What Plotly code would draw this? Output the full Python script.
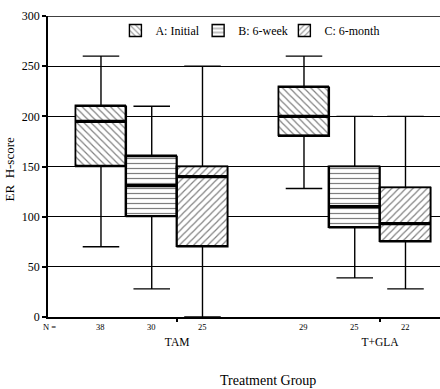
import plotly.graph_objects as go

groups = ["TAM", "T+GLA"]
group_centers = [2.5, 6.5]
series = ["A: Initial", "B: 6-week", "C: 6-month"]
offsets = [-1.5, -0.5, 0.5]
patterns = ["\\", "-", "/"]
legend_ids = ["legend", "legend2", "legend3"]
legend_x = [0.172, 0.383, 0.603]

# per series, per group [TAM, T+GLA]
lower = {"A: Initial": [70, 128], "B: 6-week": [28, 39], "C: 6-month": [0, 28]}
q1 = {"A: Initial": [150, 180], "B: 6-week": [100, 89], "C: 6-month": [70, 75]}
median = {"A: Initial": [195, 200], "B: 6-week": [131, 110], "C: 6-month": [140, 93]}
q3 = {"A: Initial": [210, 229], "B: 6-week": [160, 150], "C: 6-month": [150, 129]}
upper = {"A: Initial": [260, 260], "B: 6-week": [210, 200], "C: 6-month": [250, 200]}
n_counts = {"A: Initial": [38, 29], "B: 6-week": [30, 25], "C: 6-month": [25, 22]}

yticks = [0, 50, 100, 150, 200, 250, 300]
y_max = 300

FONT = "Liberation Serif"
fig = go.Figure()

for s, off, pat, lg in zip(series, offsets, patterns, legend_ids):
    xs = [c + off for c in group_centers]
    # patterned box body
    fig.add_trace(go.Bar(
        x=xs, y=[b - a for a, b in zip(q1[s], q3[s])], base=q1[s], width=1,
        name=s, showlegend=True, legend=lg,
        marker=dict(color="white", line=dict(color="black", width=1.4),
                    pattern=dict(shape=pat, fgcolor="black", bgcolor="white",
                                 size=5, solidity=0.24)),
        hoverinfo="skip"))
    # whiskers and caps
    fig.add_trace(go.Box(
        x=xs, q1=q1[s], median=q1[s], q3=q3[s], lowerfence=lower[s],
        upperfence=upper[s], width=1, whiskerwidth=0.72,
        fillcolor="rgba(0,0,0,0)", line=dict(color="black", width=1.4),
        showlegend=False, boxpoints=False, hoverinfo="skip"))
    # thick median line
    mx, my = [], []
    for x, m in zip(xs, median[s]):
        mx += [x - 0.5, x + 0.5, None]
        my += [m, m, None]
    fig.add_trace(go.Scatter(x=mx, y=my, mode="lines",
                             line=dict(color="black", width=3.2),
                             showlegend=False, hoverinfo="skip"))
    # N labels
    for x, n in zip(xs, n_counts[s]):
        fig.add_annotation(x=x, y=0, xref="x", yref="y", yshift=-10,
                           text=str(n), showarrow=False,
                           font=dict(family=FONT, size=8.5, color="black"))

fig.add_annotation(x=0.005, y=0, xref="paper", yref="y", yshift=-10, xanchor="center",
                   text="N =", showarrow=False,
                   font=dict(family=FONT, size=8.5, color="black"))

fig.add_annotation(x=0.56, y=-0.2, xref="paper", yref="paper", xanchor="center",
                   yanchor="middle", yshift=-3,
                   text="Treatment Group", showarrow=False,
                   font=dict(family=FONT, size=14, color="black"))
fig.add_annotation(x=-0.097, y=0.49, xref="paper", yref="paper", textangle=-90,
                   xanchor="center", yanchor="middle",
                   text="ER  H-score", showarrow=False,
                   font=dict(family=FONT, size=13, color="black"))

# top frame line at the axis maximum
fig.add_shape(type="line", xref="paper", yref="y", x0=0, x1=1, y0=y_max, y1=y_max,
              line=dict(color="black", width=1.5), layer="below")

legend_style = dict(orientation="h", y=1.0, xanchor="left", yanchor="top",
                    font=dict(family=FONT, size=12, color="black"),
                    bgcolor="rgba(0,0,0,0)", itemwidth=30)
layout_legends = {lg: dict(legend_style, x=lx) for lg, lx in zip(legend_ids, legend_x)}

fig.update_layout(
    width=440, height=389,
    margin=dict(l=48, r=0, t=16, b=72, autoexpand=False),
    paper_bgcolor="white", plot_bgcolor="white",
    barmode="overlay", bargap=0,
    font=dict(family=FONT, color="black"),
    xaxis=dict(range=[-0.044, 7.68], tickmode="array", tickvals=group_centers,
               ticktext=groups, ticks="outside", ticklen=3, tickwidth=2,
               tickcolor="black", ticklabelstandoff=10, automargin=False,
               tickfont=dict(family=FONT, size=11.5, color="black"),
               showgrid=False, zeroline=False, showline=True, linecolor="black",
               linewidth=1.5),
    yaxis=dict(range=[0, y_max], tickmode="array", tickvals=yticks,
               ticks="outside", ticklen=4, tickwidth=2, tickcolor="black",
               automargin=False,
               tickfont=dict(family=FONT, size=12, color="black"),
               showgrid=True, gridcolor="black", gridwidth=1.2,
               zeroline=False, showline=True, linecolor="black", linewidth=1.5),
    **layout_legends,
)

fig.write_html("out.html", config={"displayModeBar": False},
               post_script="document.body.style.margin='0px';"
                           "document.body.style.overflow='hidden';")
